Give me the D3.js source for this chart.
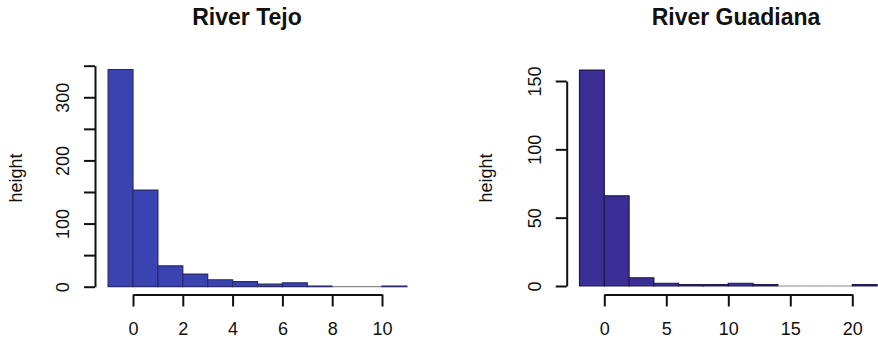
<!DOCTYPE html>
<html>
<head>
<meta charset="utf-8">
<script src="https://cdn.jsdelivr.net/npm/d3@7"></script>
<style>
  body { margin: 0; background: #fff; }
  text { font-family: "Liberation Sans", Arial, Helvetica, sans-serif; fill: #111; }
</style>
</head>
<body>
<div id="chart"></div>
<script>
// histogram data
let tejoEdges = [-1, 0, 1, 2, 3, 4, 5, 6, 7, 8, 9, 10, 11];
let tejoCounts = [344, 153, 33, 20, 11, 8, 4, 6, 1, 0, 0, 1];
let tejoXTicks = [0, 2, 4, 6, 8, 10];
let tejoYTicks = [0, 50, 100, 150, 200, 250, 300, 350];
let tejoYLabels = [0, 100, 200, 300];

let guadEdges = [-2, 0, 2, 4, 6, 8, 10, 12, 14, 16, 18, 20, 22];
let guadCounts = [158, 66, 6, 2, 1, 1, 2, 1, 0, 0, 0, 1];
let guadXTicks = [0, 5, 10, 15, 20];
let guadYTicks = [0, 50, 100, 150];
let guadYLabels = [0, 50, 100, 150];

let width = 878;
let height = 345;

let svg = d3
  .select("#chart")
  .append("svg")
  .attr("width", width)
  .attr("height", height);

// one panel = title, bars, two axes and a y label
function drawPanel(p) {
  let g = svg.append("g");

  let x_scale = d3.scaleLinear().domain(p.xDomain).range(p.xRange);
  let y_scale = d3.scaleLinear().domain(p.yDomain).range(p.yRange);

  // bins as paths so empty bins still show as a line on the baseline
  let bins = p.counts.map((c, i) => ({ x0: p.edges[i], x1: p.edges[i + 1], n: c }));
  g.append("g")
    .selectAll("path")
    .data(bins)
    .enter()
    .append("path")
    .attr("d", (d) => {
      let a = x_scale(d.x0), b = x_scale(d.x1);
      let y0 = y_scale(0), y1 = y_scale(d.n);
      return `M${a},${y0}V${y1}H${b}V${y0}Z`;
    })
    .attr("fill", p.fill)
    .attr("stroke", (d) => (d.n === 0 ? "#888" : p.stroke))
    .attr("stroke-width", 1.2);

  // y axis, labels turned like R does
  let yAxis = d3
    .axisLeft(y_scale)
    .tickValues(p.yTicks)
    .tickFormat((d) => (p.yLabels.includes(d) ? d : ""))
    .tickSize(11)
    .tickSizeOuter(0);
  let ya = g.append("g")
    .attr("transform", `translate(${p.yAxisX},0)`)
    .call(yAxis);
  ya.select(".domain").attr("stroke", "#111").attr("stroke-width", 2);
  ya.selectAll("line").attr("stroke", "#111").attr("stroke-width", 2);
  ya.selectAll("text")
    .attr("x", null)
    .attr("dy", null)
    .attr("text-anchor", "middle")
    .attr("transform", "translate(-26,0) rotate(-90)")
    .attr("font-size", "18px")
    .attr("font-family", null);

  // x axis only spans the tick range
  let xAxis = d3
    .axisBottom(x_scale)
    .tickValues(p.xTicks)
    .tickSize(12)
    .tickSizeOuter(0);
  let xs = d3.scaleLinear()
    .domain(d3.extent(p.xTicks))
    .range([x_scale(d3.min(p.xTicks)), x_scale(d3.max(p.xTicks))]);
  let xa = g.append("g")
    .attr("transform", `translate(0,${p.xAxisY})`)
    .call(xAxis.scale(xs));
  xa.select(".domain").attr("stroke", "#111").attr("stroke-width", 2);
  xa.selectAll("line").attr("stroke", "#111").attr("stroke-width", 2);
  xa.selectAll("text")
    .attr("y", 40)
    .attr("dy", null)
    .attr("font-size", "18px")
    .attr("font-family", null);

  // title
  g.append("text")
    .attr("x", p.titleX)
    .attr("y", 25)
    .attr("text-anchor", "middle")
    .attr("font-size", "23px")
    .attr("font-weight", "bold")
    .text(p.title);

  // y label
  g.append("text")
    .attr("transform", `translate(${p.ylabX},178) rotate(-90)`)
    .attr("text-anchor", "middle")
    .attr("font-size", "18px")
    .text("height");
}

drawPanel({
  title: "River Tejo",
  titleX: 247,
  edges: tejoEdges,
  counts: tejoCounts,
  xTicks: tejoXTicks,
  yTicks: tejoYTicks,
  yLabels: tejoYLabels,
  xDomain: [0, 10],
  xRange: [133, 382],
  yDomain: [0, 350],
  yRange: [286.7, 65.7],
  yAxisX: 95,
  xAxisY: 294.5,
  ylabX: 22,
  fill: "#3944b2",
  stroke: "#2a2a6a",
});

drawPanel({
  title: "River Guadiana",
  titleX: 736,
  edges: guadEdges,
  counts: guadCounts,
  xTicks: guadXTicks,
  yTicks: guadYTicks,
  yLabels: guadYLabels,
  xDomain: [0, 20],
  xRange: [604.3, 852.3],
  yDomain: [0, 150],
  yRange: [286, 81],
  yAxisX: 566.7,
  xAxisY: 294.5,
  ylabX: 492,
  fill: "#3a2d94",
  stroke: "#201a50",
});
</script>
</body>
</html>
